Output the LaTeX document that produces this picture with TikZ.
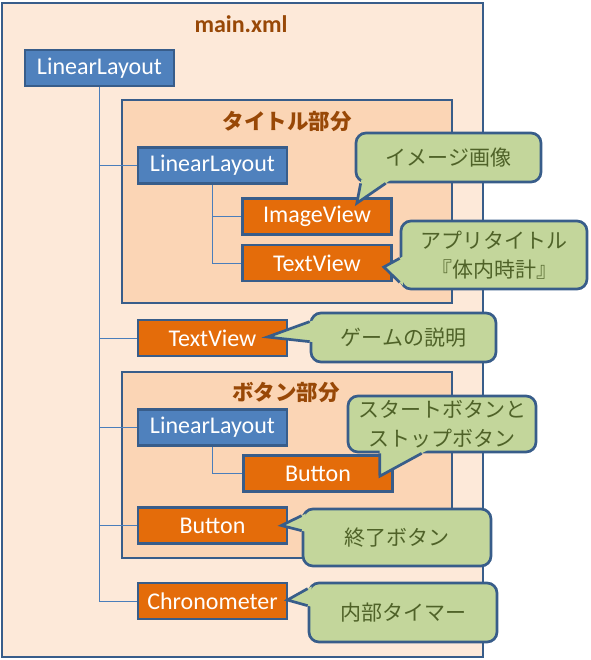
\documentclass[tikz,border=0pt]{standalone}
\usepackage{fontspec}
\setmainfont{Carlito}
\newfontfamily\jp{Noto Sans CJK JP}
\usetikzlibrary{calc,backgrounds}

\definecolor{frameblue}{HTML}{385D8A}
\definecolor{treeblue}{HTML}{4A7EBB}
\definecolor{layoutblue}{HTML}{4F81BD}
\definecolor{widgetorange}{HTML}{E46C0A}
\definecolor{notegreen}{HTML}{C3D69B}
\definecolor{notetext}{HTML}{4F6228}
\definecolor{mainfill}{HTML}{FDE9D9}
\definecolor{partfill}{HTML}{FBD5B5}
\definecolor{titlebrown}{HTML}{984807}

\tikzset{
  layout/.style={draw=frameblue, line width=2.7pt, fill=layoutblue, text=white,
    minimum width=149pt, minimum height=36pt, inner sep=0pt,
    font=\fontsize{24}{28}\selectfont},
  widget/.style={layout, fill=widgetorange},
  note/.style={draw=frameblue, line width=2.7pt, fill=notegreen, text=notetext,
    rounded corners=10pt, align=center, inner sep=0pt,
    font=\jp\fontsize{21}{29}\selectfont},
  noteline/.style={draw=frameblue, line width=2.7pt, line join=miter},
  part/.style={draw=frameblue, line width=2.7pt, fill=partfill},
  heading/.style={text=titlebrown, font=\bfseries\fontsize{24}{28}\selectfont},
  tree/.style={draw=treeblue, line width=0.9pt},
}

% tail of a callout: tip, then the two points on the box edge
\newcommand\calltail[3]{%
  \path (#1) coordinate (tip) (#2) coordinate (ba) (#3) coordinate (bb);
  \fill[notegreen] (tip) -- ($(tip)!1.2!(ba)$) -- ($(tip)!1.2!(bb)$) -- cycle;
  \draw[noteline] (ba) -- (tip) -- (bb);}

\begin{document}
\begin{tikzpicture}[x=1pt,y=-1pt]
\useasboundingbox (0,0) rectangle (590,660);

% headings
\node[heading] (mainxml) at (241,24) {main.xml};
\node[heading, font=\jp\bfseries\fontsize{21.5}{25}\selectfont] (titlepart) at (287,121) {タイトル部分};
\node[heading, font=\jp\bfseries\fontsize{21.5}{25}\selectfont] (buttonpart) at (286,392) {ボタン部分};

% views
\node[layout] (ll1) at (99.5,68) {LinearLayout};
\node[layout] (ll2) at (212.5,165.5) {LinearLayout};
\node[widget] (img) at (317,216.5) {ImageView};
\node[widget] (tv1) at (317,263) {TextView};
\node[widget] (tv2) at (212.5,338) {TextView};
\node[layout] (ll3) at (212.5,427.5) {LinearLayout};
\node[widget] (btn1) at (318,473.5) {Button};
\node[widget] (btn2) at (212.5,525.5) {Button};
\node[widget] (chr) at (212.5,601) {Chronometer};

% callouts
\node[note, minimum width=185pt, minimum height=49pt] (c1) at (448.5,157.5) {イメージ画像};
\calltail{$(img.north east)+(-36,6)$}{$(c1.south west)+(6,0)$}{$(c1.south west)+(31,0)$}
\node[note, minimum width=186pt, minimum height=68pt] (c2) at (494,255) {アプリタイトル\\『体内時計』};
\calltail{$(tv1.east)+(-9,4)$}{$(c2.south west)+(0,-32)$}{$(c2.south west)+(0,-8)$}
\node[note, minimum width=185pt, minimum height=49pt] (c3) at (403.5,337.5) {ゲームの説明};
\calltail{$(tv2.east)+(-21,-1)$}{$(c3.north west)+(0,10)$}{$(c3.north west)+(0,30)$}
\node[note, minimum width=188pt, minimum height=56pt] (c4) at (442,424) {スタートボタンと\\ストップボタン};
\calltail{$(btn1.north east)+(-14,22)$}{$(c4.south west)+(33,0)$}{$(c4.south west)+(75,0)$}
\node[note, minimum width=188pt, minimum height=57pt] (c5) at (397,537.5) {終了ボタン};
\calltail{$(btn2.east)+(-7,0)$}{$(c5.north west)+(0,8)$}{$(c5.north west)+(0,23)$}
\node[note, minimum width=188pt, minimum height=59pt] (c6) at (403,612.5) {内部タイマー};
\calltail{$(chr.east)+(-1,-1)$}{$(c6.north west)+(0,7)$}{$(c6.north west)+(0,24)$}

\begin{scope}[on background layer]
% boxes
\draw[part, fill=mainfill] (2,3) rectangle (483,657);
\draw[part] (122,100) rectangle (452,303);
\draw[part] (122,372) rectangle (452,558);
% tree
\draw[tree] (ll1.south) |- (chr.west);
\foreach \v in {ll2,tv2,ll3,btn2}
  \draw[tree] (ll1.south) |- (\v.west);
\draw[tree] (ll2.south) |- (img.west);
\draw[tree] (ll2.south) |- (tv1.west);
\draw[tree] (ll3.south) |- (btn1.west);
\end{scope}
\end{tikzpicture}
\end{document}
